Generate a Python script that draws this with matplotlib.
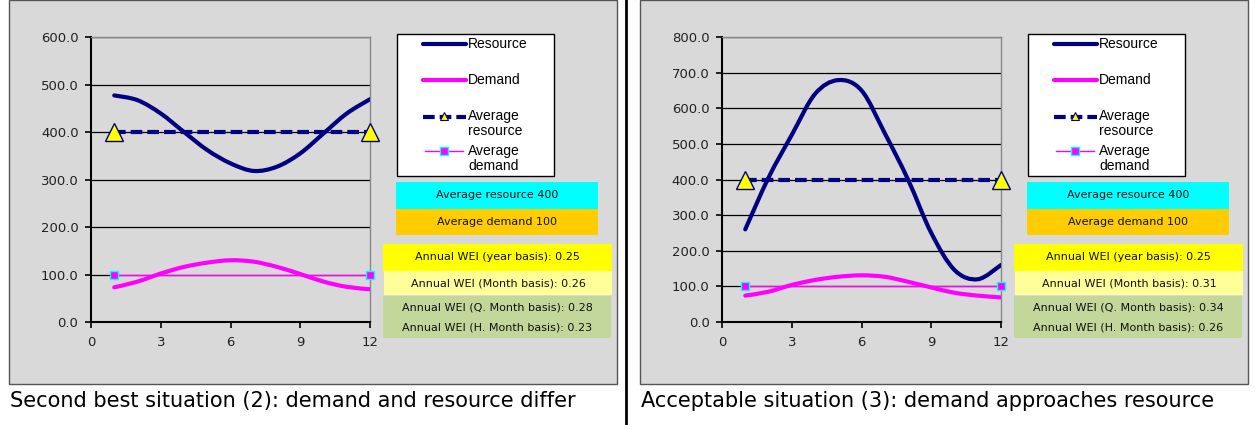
import matplotlib
matplotlib.use('Agg')
import matplotlib.pyplot as plt
from matplotlib.patches import Rectangle, PathPatch
from matplotlib.path import Path
from matplotlib.lines import Line2D
import numpy as np

plt.rcParams['font.family'] = ['Liberation Sans', 'DejaVu Sans']

months = np.arange(1, 13)

# situation 2 (left)
resource_2 = [477, 467, 439, 400, 362, 334, 318, 327, 355, 397, 439, 469]
demand_2 = [73, 85, 102, 116, 125, 130, 127, 116, 101, 85, 74, 69]
# situation 3 (right)
resource_3 = [260, 405, 525, 640, 679, 650, 530, 400, 250, 146, 120, 160]
demand_3 = [74, 85, 104, 118, 127, 131, 127, 113, 97, 82, 74, 69]

avg_resource = 400
avg_demand = 100
avg_x = [1, 12]

ymax = [600, 800]
captions = ['Second best situation (2): demand and resource differ',
            'Acceptable situation (3): demand approaches resource']
wei_year = ['0.25', '0.25']
wei_month = ['0.26', '0.31']
wei_qmonth = ['0.28', '0.34']
wei_hmonth = ['0.23', '0.26']

NAVY = '#000080'
MAGENTA = '#ff00ff'
GREY = '#d9d9d9'
DASH = (0, (2.8, 1.2))
LW = 3.0

W, H = 1256, 425
fig = plt.figure(figsize=(W / 100, H / 100), dpi=100)
fig.patch.set_facecolor('white')


def fig_rect(x, y, w, h):
    # pixel box (top-left origin) -> figure fraction
    return [x / W, 1 - (y + h) / H, w / W, h / H]


def add_box(x, y, w, h, fc, ec='none', lw=0, z=1):
    l, b, ww, hh = fig_rect(x, y, w, h)
    fig.patches.append(Rectangle((l, b), ww, hh, transform=fig.transFigure,
                                 facecolor=fc, edgecolor=ec, linewidth=lw, zorder=z))


def fig_line(xs, ys, **kw):
    fig.lines.append(Line2D([x / W for x in xs], [1 - y / H for y in ys],
                            transform=fig.transFigure, **kw))


def smooth_line(ax, x, y, **kw):
    # Excel style smoothed line: Bezier segments through the data points
    pts = np.column_stack([np.asarray(x, float), np.asarray(y, float)])
    verts = [pts[0]]
    codes = [Path.MOVETO]
    n = len(pts)
    for i in range(n - 1):
        p0 = pts[max(i - 1, 0)]
        p1 = pts[i]
        p2 = pts[i + 1]
        p3 = pts[min(i + 2, n - 1)]
        verts += [p1 + (p2 - p0) / 6., p2 - (p3 - p1) / 6., p2]
        codes += [Path.CURVE4] * 3
    ax.add_patch(PathPatch(Path(verts, codes), facecolor='none',
                           capstyle='round', **kw))


panels = [(0, resource_2, demand_2), (1, resource_3, demand_3)]
for k, res, dem in panels:
    ox = 0 if k == 0 else 631
    # grey panel
    add_box(ox + 9, 0, 608, 384, GREY, ec='#555555', lw=1.0, z=-1)

    ax = fig.add_axes(fig_rect(ox + 91, 37, 279, 285))
    ax.set_facecolor(GREY)
    ax.set_xlim(0, 12)
    ax.set_ylim(0, ymax[k])
    ax.set_xticks([0, 3, 6, 9, 12])
    yt = np.arange(0, ymax[k] + 1, 100)
    ax.set_yticks(yt)
    ax.set_yticklabels(['%.1f' % v for v in yt])
    ax.tick_params(labelcolor='#222222', length=4, width=1.2, direction='out')
    ax.tick_params(axis='y', pad=5)
    ax.tick_params(axis='x', pad=6)
    for lab in ax.get_xticklabels() + ax.get_yticklabels():
        lab.set_family('DejaVu Sans')
        lab.set_fontsize(9.5)
    ax.grid(axis='y', color='black', linewidth=0.9)
    ax.set_axisbelow(True)
    for s in ['top', 'right']:
        ax.spines[s].set_color('#888888')
        ax.spines[s].set_linewidth(1.0)
    for s in ['left', 'bottom']:
        ax.spines[s].set_color('black')
        ax.spines[s].set_linewidth(1.5)

    ax.plot(avg_x, [avg_demand] * 2, color=MAGENTA, lw=1.0, marker='s', ms=6,
            mfc=MAGENTA, mec='#00ffff', mew=1.0, zorder=3, clip_on=False)
    smooth_line(ax, months, dem, edgecolor=MAGENTA, linewidth=LW, zorder=4)
    smooth_line(ax, months, res, edgecolor=NAVY, linewidth=LW, zorder=5)
    ax.plot(avg_x, [avg_resource] * 2, color=NAVY, lw=LW, ls=DASH, zorder=6)
    ax.plot(avg_x, [avg_resource] * 2, ls='none', marker='^', ms=13,
            mfc='#ffff00', mec=NAVY, mew=1.0, zorder=7, clip_on=False)

    # legend box, drawn by hand to match the original layout
    add_box(ox + 397, 34, 157, 142, 'white', ec='black', lw=1.0)
    hx = [ox + 423, ox + 466]
    fig_line(hx, [44, 44], color=NAVY, lw=LW, solid_capstyle='round')
    fig_line(hx, [80, 80], color=MAGENTA, lw=LW, solid_capstyle='round')
    fig_line(hx, [117, 117], color=NAVY, lw=LW, ls=DASH)
    fig_line([ox + 444], [116], ls='none', marker='^', ms=6, mfc='#ffff00',
             mec=NAVY, mew=0.8)
    fig_line([ox + 425, ox + 463], [151, 151], color=MAGENTA, lw=1.0)
    fig_line([ox + 444], [151], ls='none', marker='s', ms=6, mfc=MAGENTA,
             mec='#00ffff', mew=1.0)
    tx = (ox + 468) / W
    for ty, txt in [(44, 'Resource'), (80, 'Demand'),
                    (116, 'Average'), (131, 'resource'),
                    (151, 'Average'), (166, 'demand')]:
        fig.text(tx, 1 - ty / H, txt, fontsize=10, ha='left', va='center',
                 color='black')

    # info boxes
    boxes = [
        (ox + 396, 182, 202, 27, '#00ffff', 'Average resource %d' % avg_resource),
        (ox + 396, 209, 202, 26, '#ffcc00', 'Average demand %d' % avg_demand),
        (ox + 383, 244, 229, 27, '#ffff00', 'Annual WEI (year basis): ' + wei_year[k]),
        (ox + 384, 271, 228, 24, '#ffff99', 'Annual WEI (Month basis): ' + wei_month[k]),
    ]
    for bx, by, bw, bh, col, txt in boxes:
        add_box(bx, by, bw, bh, col)
        fig.text((bx + bw / 2) / W, 1 - (by + bh / 2) / H, txt, fontsize=8,
                 family='DejaVu Sans', ha='center', va='center', color='#111111')
    add_box(ox + 383, 296, 228, 42, '#c4d79b')
    fig.text((ox + 497) / W, 1 - 307 / H, 'Annual WEI (Q. Month basis): ' + wei_qmonth[k],
             fontsize=8, family='DejaVu Sans', ha='center', va='center', color='#111111')
    fig.text((ox + 497) / W, 1 - 327 / H, 'Annual WEI (H. Month basis): ' + wei_hmonth[k],
             fontsize=8, family='DejaVu Sans', ha='center', va='center', color='#111111')

    fig.text((ox + 10) / W, 1 - 401 / H, captions[k], fontsize=15,
             family='DejaVu Sans', ha='left', va='center', color='black')

# separator
fig_line([626, 626], [0, H], color='black', lw=2)

fig.savefig('out.png', dpi=100)
